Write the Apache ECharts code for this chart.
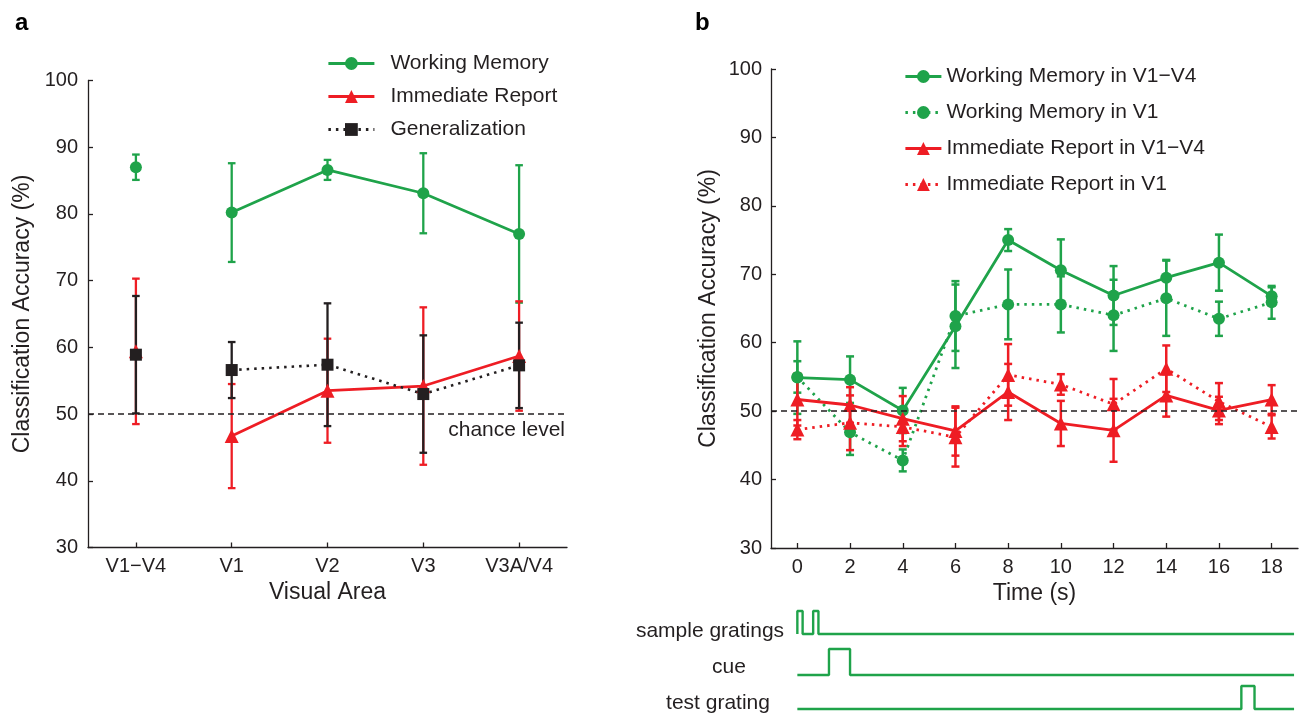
<!DOCTYPE html>
<html>
<head>
<meta charset="utf-8">
<title>Classification accuracy</title>
<script src="https://cdn.jsdelivr.net/npm/echarts@6/dist/echarts.min.js"></script>
<style>
  html, body { margin: 0; padding: 0; background: #fff; }
  #chart { width: 1302px; height: 717px; }
</style>
</head>
<body>
<div id="chart"></div>
<script>
// ---- panel a: accuracy per visual area ----
const areas = ['V1\u2212V4', 'V1', 'V2', 'V3', 'V3A/V4']
const wmMean = [87.0, 80.2, 86.6, 83.1, 77.0]
const wmErr = [1.9, 7.4, 1.5, 6.0, 10.3]
const irMean = [59.4, 46.7, 53.5, 54.2, 58.7]
const irErr = [10.9, 7.8, 7.8, 11.8, 8.2]
const genMean = [58.9, 56.6, 57.4, 53.0, 57.3]
const genErr = [8.8, 4.2, 9.2, 8.8, 6.4]

// ---- panel b: accuracy over time ----
const times = ['0', '2', '4', '6', '8', '10', '12', '14', '16', '18']
const wmAllMean = [54.9, 54.6, 50.1, 62.4, 75.0, 70.6, 66.9, 69.5, 71.7, 66.8]
const wmAllErr = [5.3, 3.4, 3.3, 6.1, 1.6, 4.5, 4.3, 2.6, 4.1, 1.3]
const wmV1Mean = [55.0, 46.9, 42.8, 63.9, 65.6, 65.6, 64.0, 66.5, 63.5, 65.9]
const wmV1Err = [2.3, 3.3, 1.6, 5.1, 5.1, 4.1, 5.2, 5.5, 2.5, 2.4]
const irAllMean = [51.7, 50.9, 48.9, 47.1, 52.8, 48.2, 47.2, 52.3, 50.1, 51.7]
const irAllErr = [3.8, 2.6, 3.3, 3.6, 4.1, 3.3, 4.6, 3.1, 2.0, 2.1]
const irV1Mean = [47.3, 48.3, 47.7, 46.2, 55.3, 53.9, 51.0, 56.2, 51.4, 47.7]
const irV1Err = [1.4, 4.0, 2.8, 4.3, 4.5, 1.5, 3.7, 3.4, 2.7, 1.7]

// stimulus timing (s): [onset, offset]
const samplePulses = [[0, 0.2], [0.6, 0.8]]
const cuePulses = [[1.2, 2.0]]
const testPulses = [[16.85, 17.35]]
const traceEnd = 18.85

const GREEN = '#1fa34a'
const RED = '#ee1d24'
const BLACK = '#231f20'
const FONT = 'Liberation Sans, Arial, Helvetica, sans-serif'

const chart = echarts.init(document.getElementById('chart'))

// 误差线
function errBars (mean, err, color, xIdx, yIdx, capW, lw) {
  return {
    type: 'custom',
    xAxisIndex: xIdx,
    yAxisIndex: yIdx,
    silent: true,
    data: mean.map((m, i) => [i, m - err[i], m + err[i]]),
    encode: { x: 0, y: [1, 2] },
    renderItem (params, api) {
      const lo = api.coord([api.value(0), api.value(1)])
      const hi = api.coord([api.value(0), api.value(2)])
      const st = { stroke: color, lineWidth: lw }
      return {
        type: 'group',
        children: [
          { type: 'line', shape: { x1: lo[0], y1: lo[1], x2: hi[0], y2: hi[1] }, style: st },
          { type: 'line', shape: { x1: lo[0] - capW, y1: lo[1], x2: lo[0] + capW, y2: lo[1] }, style: st },
          { type: 'line', shape: { x1: hi[0] - capW, y1: hi[1], x2: hi[0] + capW, y2: hi[1] }, style: st }
        ]
      }
    }
  }
}

function lineSeries (name, data, color, symbol, size, dotted, xIdx, yIdx, lw) {
  return {
    type: 'line',
    name: name,
    data: data,
    xAxisIndex: xIdx,
    yAxisIndex: yIdx,
    symbol: symbol,
    symbolSize: size,
    showAllSymbol: true,
    connectNulls: false,
    itemStyle: { color: color },
    lineStyle: { color: color, width: lw, type: dotted ? [2.5, 5] : 'solid' }
  }
}

// panel a: V1-V4 is drawn unconnected from the single areas
const firstOnly = arr => arr.map((v, i) => (i === 0 ? v : '-'))
const restOnly = arr => arr.map((v, i) => (i === 0 ? '-' : v))

function pulseTrain (pulses) {
  const pts = [[0, 0]]
  pulses.forEach(p => {
    pts.push([p[0], 0], [p[0], 1], [p[1], 1], [p[1], 0])
  })
  pts.push([traceEnd, 0])
  return pts
}

const axisText = { fontFamily: FONT, fontSize: 20, color: BLACK }
const axisLine = { show: true, lineStyle: { color: BLACK, width: 1.3 } }
const inTick = { show: true, inside: true, length: 5, lineStyle: { color: BLACK, width: 1.3 } }
const nameText = { fontFamily: FONT, fontSize: 23, color: BLACK }

const hiddenX = { type: 'value', min: -1, max: 19, show: false }
const hiddenY = { type: 'value', min: 0, max: 1, show: false }

const chanceLine = (showLabel) => ({
  silent: true,
  symbol: 'none',
  lineStyle: { color: BLACK, type: [6, 4], width: 1.6 },
  label: showLabel
    ? { show: true, formatter: 'chance level', position: 'insideEndBottom', distance: [2, 6], fontFamily: FONT, fontSize: 21, color: BLACK }
    : { show: false },
  data: [{ yAxis: 50 }]
})

const traceText = (text, x, y) => ({
  type: 'text',
  x: x,
  y: y,
  style: { text: text, font: '21px ' + FONT, fill: BLACK, align: 'center', verticalAlign: 'middle' }
})

const option = {
  animation: false,
  backgroundColor: '#fff',
  title: [
    { text: 'a', left: 10, top: 6, textStyle: { fontFamily: FONT, fontSize: 24, fontWeight: 'bold', color: '#000' } },
    { text: 'b', left: 690, top: 6, textStyle: { fontFamily: FONT, fontSize: 24, fontWeight: 'bold', color: '#000' } }
  ],
  legend: [
    {
      left: 322,
      top: 48,
      orient: 'vertical',
      itemWidth: 46,
      itemHeight: 16,
      itemGap: 12,
      lineStyle: { width: 2.8 },
      textStyle: { fontFamily: FONT, fontSize: 21, color: BLACK, padding: [0, 0, 0, 11] },
      data: ['Working Memory', 'Immediate Report', 'Generalization']
    },
    {
      left: 899,
      top: 61,
      orient: 'vertical',
      itemWidth: 36,
      itemHeight: 16,
      itemGap: 15,
      lineStyle: { width: 2.8 },
      textStyle: { fontFamily: FONT, fontSize: 21, color: BLACK },
      data: ['Working Memory in V1\u2212V4', 'Working Memory in V1', 'Immediate Report in V1\u2212V4', 'Immediate Report in V1']
    }
  ],
  grid: [
    { left: 88, top: 80.5, width: 479, height: 467 },
    { left: 771, top: 69, width: 527, height: 479 },
    { left: 771, top: 611, width: 527, height: 23 },
    { left: 771, top: 649, width: 527, height: 26 },
    { left: 771, top: 686, width: 527, height: 23 }
  ],
  xAxis: [
    {
      gridIndex: 0,
      type: 'category',
      data: areas,
      boundaryGap: true,
      axisLine: axisLine,
      axisTick: Object.assign({ alignWithLabel: true }, inTick),
      axisLabel: Object.assign({ margin: 9 }, axisText),
      name: 'Visual Area',
      nameLocation: 'middle',
      nameGap: 33,
      nameTextStyle: nameText
    },
    {
      gridIndex: 1,
      type: 'category',
      data: times,
      boundaryGap: true,
      axisLine: axisLine,
      axisTick: Object.assign({ alignWithLabel: true }, inTick),
      axisLabel: Object.assign({ margin: 9 }, axisText),
      name: 'Time (s)',
      nameLocation: 'middle',
      nameGap: 29,
      nameTextStyle: nameText
    },
    Object.assign({ gridIndex: 2 }, hiddenX),
    Object.assign({ gridIndex: 3 }, hiddenX),
    Object.assign({ gridIndex: 4 }, hiddenX)
  ],
  yAxis: [
    {
      gridIndex: 0,
      type: 'value',
      min: 30,
      max: 100,
      interval: 10,
      axisLine: axisLine,
      axisTick: inTick,
      splitLine: { show: false },
      axisLabel: Object.assign({ margin: 10 }, axisText),
      name: 'Classification Accuracy (%)',
      nameLocation: 'middle',
      nameGap: 54,
      nameTextStyle: nameText
    },
    {
      gridIndex: 1,
      type: 'value',
      min: 30,
      max: 100,
      interval: 10,
      axisLine: axisLine,
      axisTick: inTick,
      splitLine: { show: false },
      axisLabel: Object.assign({ margin: 9, padding: [6, 0, 0, 0] }, axisText),
      name: 'Classification Accuracy (%)',
      nameLocation: 'middle',
      nameGap: 51,
      nameTextStyle: nameText
    },
    Object.assign({ gridIndex: 2 }, hiddenY),
    Object.assign({ gridIndex: 3 }, hiddenY),
    Object.assign({ gridIndex: 4 }, hiddenY)
  ],
  graphic: [
    traceText('sample gratings', 710, 631),
    traceText('cue', 729, 667),
    traceText('test grating', 718, 703)
  ],
  series: [
    // panel a
    errBars(wmMean, wmErr, GREEN, 0, 0, 3.8, 2.3),
    lineSeries('Working Memory', restOnly(wmMean), GREEN, 'circle', 12, false, 0, 0, 2.7),
    lineSeries('Working Memory', firstOnly(wmMean), GREEN, 'circle', 12, false, 0, 0, 2.7),
    errBars(irMean, irErr, RED, 0, 0, 3.8, 2.3),
    lineSeries('Immediate Report', restOnly(irMean), RED, 'triangle', 14, false, 0, 0, 2.7),
    lineSeries('Immediate Report', firstOnly(irMean), RED, 'triangle', 14, false, 0, 0, 2.7),
    errBars(genMean, genErr, BLACK, 0, 0, 3.8, 2.3),
    Object.assign(lineSeries('Generalization', restOnly(genMean), BLACK, 'rect', 12, true, 0, 0, 2.6),
      { markLine: chanceLine(true) }),
    lineSeries('Generalization', firstOnly(genMean), BLACK, 'rect', 12, true, 0, 0, 2.6),

    // panel b
    errBars(wmAllMean, wmAllErr, GREEN, 1, 1, 4, 2.5),
    Object.assign(lineSeries('Working Memory in V1\u2212V4', wmAllMean, GREEN, 'circle', 12, false, 1, 1, 2.8),
      { markLine: chanceLine(false) }),
    errBars(wmV1Mean, wmV1Err, GREEN, 1, 1, 4, 2.5),
    lineSeries('Working Memory in V1', wmV1Mean, GREEN, 'circle', 12, true, 1, 1, 2.8),
    errBars(irAllMean, irAllErr, RED, 1, 1, 4, 2.5),
    lineSeries('Immediate Report in V1\u2212V4', irAllMean, RED, 'triangle', 14, false, 1, 1, 2.8),
    errBars(irV1Mean, irV1Err, RED, 1, 1, 4, 2.5),
    lineSeries('Immediate Report in V1', irV1Mean, RED, 'triangle', 14, true, 1, 1, 2.8),

    // stimulus traces
    { type: 'line', xAxisIndex: 2, yAxisIndex: 2, data: pulseTrain(samplePulses), symbol: 'none', clip: false, silent: true, lineStyle: { color: GREEN, width: 2.4 } },
    { type: 'line', xAxisIndex: 3, yAxisIndex: 3, data: pulseTrain(cuePulses), symbol: 'none', clip: false, silent: true, lineStyle: { color: GREEN, width: 2.4 } },
    { type: 'line', xAxisIndex: 4, yAxisIndex: 4, data: pulseTrain(testPulses), symbol: 'none', clip: false, silent: true, lineStyle: { color: GREEN, width: 2.4 } }
  ]
}

chart.setOption(option)
</script>
</body>
</html>
